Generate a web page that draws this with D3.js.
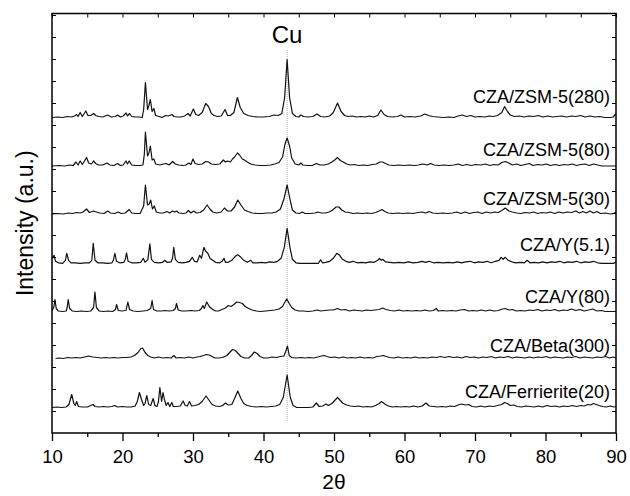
<!DOCTYPE html>
<html><head><meta charset="utf-8">
<script src="https://cdn.jsdelivr.net/npm/d3@7"></script>
<style>
html,body{margin:0;padding:0;background:#fff;}
svg{display:block;}
text{font-family:"Liberation Sans",Arial,Helvetica,sans-serif;fill:#000;}
</style></head><body>
<svg id="chart" width="630" height="496"></svg>
<script>
// ---------- DATA (2θ in degrees, intensity above each pattern's baseline, a.u.) ----------
const seriesNames = ["CZA/ZSM-5(280)","CZA/ZSM-5(80)","CZA/ZSM-5(30)","CZA/Y(5.1)","CZA/Y(80)","CZA/Beta(300)","CZA/Ferrierite(20)"];
const seriesOffsets = [315.5, 267, 219, 169.7, 121.5, 74.5, 25.5];
const cuPosition = 43.35;
const cuLabel = "Cu";
const xTickValues = [10,20,30,40,50,60,70,80,90];
const xMinorTickValues = [15,25,35,45,55,65,75,85];
const xLabel = "2θ";
const yLabel = "Intensity (a.u.)";

const zsm280 = [[10,0],[10.8,0.5],[11.5,0],[12.2,1],[12.8,0.5],[13.2,1.5],[13.5,3],[13.7,1],[14.0,5],[14.3,1],[14.8,6.5],[15.1,2],[15.5,2],[15.9,4],[16.2,2],[16.6,1],[17.2,0.5],[17.9,2.5],[18.4,0.5],[19.0,1],[19.3,2.5],[19.7,0.5],[20.1,1.5],[20.5,4.5],[20.7,1.5],[21.0,4],[21.3,1],[21.8,0.5],[22.4,0.5],[22.8,0],[23.0,8],[23.25,35],[23.55,8],[23.75,12],[23.95,18],[24.2,6],[24.45,9],[24.7,2],[25.2,1],[25.6,0],[26.1,2],[26.5,1.5],[27.0,3],[27.3,1],[27.8,0.5],[28.3,0.5],[28.8,1.5],[29.3,4],[29.6,1.5],[30.05,8.5],[30.4,3],[30.8,2],[31.3,5],[31.8,14],[32.2,11],[32.6,4],[33.0,2],[33.5,1],[34.0,1.5],[34.55,8],[34.9,2],[35.3,2],[35.8,5],[36.3,20],[36.7,10],[37.2,4],[37.8,2],[38.5,1],[39.2,0.5],[40.0,0.5],[40.8,1],[41.5,2.5],[42.1,2],[42.6,4],[43.0,20],[43.35,58],[43.7,20],[44.1,4],[44.6,1],[45.0,0.5],[45.3,2.5],[45.7,1],[46.3,0.5],[47.0,1],[47.6,3.5],[48.1,1],[48.7,0.5],[49.4,1.5],[49.9,5],[50.5,14.5],[51.0,6],[51.5,2],[52.0,1],[52.6,1.5],[53.2,0.5],[53.8,1],[54.4,0.5],[55.0,1.5],[55.6,0.5],[56.2,2],[56.65,7.5],[57.1,3],[57.6,1],[58.3,0.5],[59.0,1],[59.5,2.5],[60.0,0.5],[60.8,1],[61.5,0.5],[62.3,1.5],[62.9,3.5],[63.4,2],[64.0,1],[64.7,0.5],[65.5,0],[66.3,0.5],[67.0,0],[67.6,1.5],[68.2,2.5],[68.8,1],[69.4,2],[70.0,0.5],[70.7,1],[71.4,0.5],[72.0,1.5],[72.6,1],[73.2,2],[73.8,5],[74.2,11],[74.6,6],[75.0,2.5],[75.6,1],[76.3,1.5],[77.0,0.5],[77.6,1.5],[78.3,1],[79.0,2],[79.6,0.5],[80.3,1.5],[81.0,0.5],[81.6,1],[82.3,1.5],[83.0,0.5],[83.7,1.5],[84.3,1],[85.0,2],[85.6,0.5],[86.3,1.5],[87.0,0.5],[87.7,1],[88.4,0],[89.2,0],[89.6,0.5],[90,4]];

const zsm80 = [[10,0],[11,0.5],[11.8,0],[12.5,1],[13.0,0.5],[13.4,4],[13.7,1],[14.0,5],[14.3,1.5],[14.9,8.5],[15.2,3],[15.6,2],[15.9,5],[16.2,2.5],[16.6,1],[17.2,1],[17.8,3],[18.2,1],[18.8,0.5],[19.3,2.5],[19.7,0.5],[20.1,1],[20.5,5],[20.7,2],[20.95,5],[21.3,1],[21.9,0.5],[22.5,0.5],[22.9,1],[23.1,12],[23.25,34],[23.55,10],[23.75,13],[23.95,20],[24.2,6],[24.45,7],[24.7,2],[25.3,1],[25.8,2],[26.2,2.5],[26.6,1],[27.1,4.5],[27.5,2],[28.0,1],[28.6,0.5],[29.0,1],[29.4,3],[29.7,1.5],[30.0,7],[30.3,2.5],[30.8,1.5],[31.3,2],[31.8,4.5],[32.2,4],[32.6,2],[33.2,1.5],[33.8,2],[34.3,6],[34.6,4],[34.9,5],[35.3,4],[35.6,7],[35.9,9],[36.3,13],[36.6,11],[37.0,7],[37.3,6],[37.7,4],[38.2,2],[38.8,1],[39.5,0.5],[40.3,0.5],[41.0,1],[41.6,2],[42.2,3.5],[42.7,9],[43.05,22],[43.35,28],[43.7,20],[44.0,8],[44.5,2],[45.0,1],[45.3,3],[45.6,1],[46.2,0.5],[46.9,0.5],[47.5,2.5],[48.0,1],[48.6,1],[49.2,2],[49.7,4],[50.1,6],[50.5,8.5],[50.9,5.5],[51.3,4],[51.8,2],[52.3,1],[52.9,1.5],[53.5,0.5],[54.2,1],[54.8,0.5],[55.4,1.5],[56.0,2],[56.5,4],[56.9,4],[57.3,2.5],[57.8,1],[58.5,0.5],[59.2,1],[60.0,0.5],[60.7,1],[61.4,0.5],[62.0,1],[62.6,2],[63.2,1],[63.7,2.5],[64.2,1],[64.9,0.5],[65.6,1],[66.3,0.5],[67.0,1],[67.6,2],[68.2,0.5],[68.8,1.5],[69.5,0.5],[70.1,1.5],[70.8,1],[71.5,2],[72.1,0.5],[72.7,1.5],[73.3,1],[73.8,3.5],[74.3,4.5],[74.8,3],[75.3,1],[75.9,2],[76.5,0.5],[77.1,1.5],[77.7,2.5],[78.2,0.5],[78.9,1.5],[79.5,1],[80.1,2],[80.7,0.5],[81.4,1.5],[82.0,0.5],[82.6,1.5],[83.2,1],[83.8,2],[84.4,0.5],[85.0,1.5],[85.6,2],[86.2,0.5],[86.8,2],[87.4,1],[88.0,0],[89,0],[90,0]];

const zsm30 = [[10,0],[10.8,0.5],[11.6,0],[12.3,1],[12.9,0.5],[13.5,1.5],[14.0,1],[14.4,2],[14.9,5],[15.3,1.5],[15.9,3],[16.3,2],[16.8,1],[17.4,0.5],[17.9,3],[18.3,1],[18.9,0.5],[19.4,2],[19.8,0.5],[20.4,1],[20.95,4.5],[21.3,1],[21.9,0.5],[22.5,0.5],[23.0,8],[23.25,29],[23.55,9],[23.8,10],[24.0,14],[24.25,5],[24.5,8],[24.8,2],[25.3,1],[25.8,1],[26.3,2.5],[26.7,1],[27.1,3],[27.4,2],[27.7,3],[28.0,1],[28.6,0.5],[29.0,1],[29.35,3.5],[29.7,1],[30.1,3],[30.5,1],[31.0,1.5],[31.5,4],[32.0,9],[32.4,5],[32.8,2],[33.4,1],[34.0,2],[34.45,6],[34.9,3],[35.4,3],[35.9,7],[36.35,14],[36.8,9],[37.3,4],[37.8,2.5],[38.4,1],[39.1,0.5],[39.8,0.5],[40.5,1],[41.2,1],[41.8,2],[42.4,5],[42.9,15],[43.35,29],[43.75,15],[44.1,4],[44.6,1],[45.1,0.5],[45.5,2],[45.9,0.5],[46.6,0.5],[47.3,1],[47.7,2],[48.2,1],[48.8,1],[49.3,2],[49.8,4],[50.3,7],[50.7,7],[51.1,4],[51.6,2],[52.1,1.5],[52.7,0.5],[53.3,1],[54.0,0.5],[54.7,1],[55.3,0.5],[55.9,1.5],[56.4,3],[56.8,4.5],[57.2,2.5],[57.7,1],[58.4,0.5],[59.1,1],[59.8,0.5],[60.5,1],[61.2,0.5],[61.9,1.5],[62.5,2],[63.0,1],[63.5,2.5],[64.0,1],[64.7,0.5],[65.4,1],[66.1,0.5],[66.8,1],[67.4,2],[68.0,0.5],[68.6,2],[69.2,0.5],[69.8,1.5],[70.4,2],[71.0,0.5],[71.6,2],[72.2,1],[72.8,2],[73.3,1.5],[73.8,3.5],[74.3,6],[74.8,3],[75.3,2],[75.9,1],[76.5,0.5],[77.1,1.5],[77.7,1],[78.3,2],[78.9,0.5],[79.5,1.5],[80.1,1],[80.7,2],[81.3,0.5],[81.9,2],[82.5,1],[83.1,2],[83.7,1.5],[84.3,3],[84.8,1],[85.3,2.5],[85.8,1],[86.3,3],[86.8,1],[87.3,2.5],[87.8,0.5],[88.5,1],[89.2,0],[89.7,0.5],[90,2]];

const y51 = [[10,5],[10.3,8],[10.5,2],[10.9,0.5],[11.5,0],[11.9,3],[12.1,10],[12.35,3],[12.7,0.5],[13.3,0.5],[14.0,0],[14.7,0.5],[15.3,0.5],[15.65,3],[15.85,20],[16.1,3],[16.5,0.5],[17.2,0.5],[17.9,0],[18.5,0.5],[18.7,3],[18.92,10],[19.15,2],[19.6,0.5],[20.2,1],[20.4,4],[20.57,10.5],[20.8,2],[21.3,0.5],[22.0,0.5],[22.6,1],[22.95,5],[23.2,1],[23.6,4],[23.88,19.5],[24.1,4],[24.5,1],[25.1,0.5],[25.7,1],[26.0,3],[26.3,1],[26.9,1.5],[27.1,5],[27.27,16],[27.5,4],[27.9,1],[28.5,0.5],[29.0,1],[29.5,2],[29.9,6],[30.2,2],[30.6,1.5],[30.95,8],[31.2,5],[31.55,16],[31.8,12],[32.1,10],[32.4,5],[32.8,3],[33.2,1],[33.8,0.5],[34.15,2],[34.4,5],[34.6,1],[35.0,1],[35.5,3],[36.0,7],[36.35,8.5],[36.8,6],[37.2,3],[37.7,1],[38.2,3],[38.5,0.5],[39.1,0.5],[39.7,1],[40.3,0.5],[40.9,1.5],[41.5,1],[42.0,2],[42.5,5],[42.95,16],[43.35,35],[43.75,16],[44.1,4],[44.6,0.5],[45.1,0],[46.0,0],[47.0,0],[47.8,0],[48.1,3.5],[48.35,0.5],[48.8,1],[49.4,2],[49.9,5],[50.4,10],[50.8,8],[51.2,4],[51.7,2],[52.2,1],[52.7,2],[53.3,0.5],[53.9,1],[54.5,0.5],[55.1,1.5],[55.7,1],[56.2,3],[56.45,5],[56.7,3],[56.9,4],[57.3,1.5],[57.9,1],[58.5,0.5],[59.2,1],[59.9,0.5],[60.6,1.5],[61.2,0.5],[61.9,1],[62.5,2],[63.0,1],[63.5,2],[64.1,0.5],[64.8,1],[65.5,0.5],[66.2,1],[66.9,0.5],[67.5,1.5],[68.1,0.5],[68.7,1.5],[69.3,2],[69.9,0.5],[70.5,1.5],[71.1,1],[71.7,2],[72.3,0.5],[72.9,2],[73.4,3],[73.7,6],[74.0,4],[74.3,6],[74.7,3],[75.2,1.5],[75.8,0.5],[76.4,1],[77.0,0.5],[77.4,3],[77.8,0.5],[78.4,1],[79.0,0.5],[79.6,1.5],[80.2,0.5],[80.8,1.5],[81.4,1],[82.0,2],[82.6,0.5],[83.2,1.5],[83.8,1],[84.4,2],[85.0,0.5],[85.6,1.5],[86.2,1],[86.8,2],[87.4,0.5],[88.0,0],[89.0,0],[89.7,0],[90,1.5]];

const y80 = [[10,1],[10.25,4],[10.42,12],[10.6,3],[10.9,0.5],[11.5,0],[12.0,0.5],[12.15,4],[12.3,12],[12.5,3],[12.9,0.5],[13.5,0],[14.2,0.5],[14.9,0],[15.5,0.5],[15.9,4],[16.09,19.5],[16.3,4],[16.7,0.5],[17.3,0],[18.0,0.5],[18.6,0],[19.0,2],[19.16,7],[19.4,1],[19.9,0.5],[20.5,1],[20.75,9.5],[21.0,2],[21.5,0.5],[22.2,0],[22.9,0.5],[23.5,1],[24.0,3],[24.2,11],[24.4,2],[24.9,0.5],[25.5,0.5],[26.0,1],[26.6,0.5],[27.2,1],[27.5,3],[27.66,8],[27.9,1.5],[28.4,0.5],[29.0,0.5],[29.7,1],[30.3,0.5],[30.9,1],[31.2,3],[31.4,6],[31.6,3],[31.95,9.5],[32.3,5],[32.8,2],[33.2,0.5],[33.6,0.5],[34.1,2],[34.6,3.5],[35.0,6],[35.4,5],[35.8,7],[36.2,9.5],[36.6,9],[37.0,8],[37.4,5],[37.9,3],[38.4,1.5],[39.0,0.5],[39.6,0],[40.3,0.5],[41.0,1],[41.6,1.5],[42.2,2.5],[42.7,5],[43.0,9],[43.3,12.5],[43.65,8],[44.0,4],[44.5,1.5],[45.0,0.5],[45.7,0.5],[46.3,0],[47.0,0.5],[47.6,1.5],[48.1,0.5],[48.7,1],[49.3,1.5],[49.9,1.5],[50.5,3],[51.0,1.5],[51.6,2],[52.2,0.5],[52.8,1.5],[53.4,1],[54.0,0.5],[54.6,1.5],[55.2,1],[55.8,1.5],[56.4,2],[56.9,3.5],[57.4,2],[58.0,1],[58.6,0.5],[59.2,1.5],[59.8,0.5],[60.4,1],[61.0,0.5],[61.7,1],[62.3,0.5],[62.9,1.5],[63.5,0.5],[64.1,1],[64.5,3],[64.8,0.5],[65.4,1],[66.0,0.5],[66.7,1],[67.3,0.5],[67.9,1.5],[68.5,2],[69.1,0.5],[69.7,1],[70.3,0.5],[70.9,1.5],[71.5,0.5],[72.1,1.5],[72.7,0.5],[73.3,1],[73.9,2.5],[74.3,3],[74.8,1.5],[75.3,2],[75.9,0.5],[76.5,1],[77.1,0.5],[77.7,1.5],[78.3,1],[78.9,2],[79.5,0.5],[80.1,1.5],[80.7,1],[81.3,2],[81.9,0.5],[82.5,1.5],[83.1,1],[83.7,2.5],[84.3,1],[84.9,2],[85.5,0.5],[86.1,1.5],[86.7,2.5],[87.3,0.5],[87.9,1],[88.5,0],[89.2,0],[89.8,0],[90,0]];

const beta300 = [[10.5,0],[11.0,0.5],[11.6,0],[12.2,1],[12.8,0.5],[13.4,1],[14.0,0.5],[14.6,1.5],[15.2,2.5],[15.8,1.5],[16.4,1],[17.0,0.5],[17.6,1],[18.2,0.5],[18.8,1],[19.4,0.5],[20.0,1],[20.6,1],[21.2,1.5],[21.7,3],[22.2,6],[22.6,10],[22.85,10.5],[23.2,6],[23.6,3],[24.0,1.5],[24.5,0.5],[25.1,1.5],[25.7,0.5],[26.3,1],[26.9,0.5],[27.3,3],[27.6,0.5],[28.2,1],[28.8,0.5],[29.4,1.5],[30.0,0.5],[30.6,1.5],[31.0,2],[31.5,3],[31.9,4],[32.3,3.5],[32.7,2],[33.1,0.5],[33.6,0.5],[34.2,1],[34.8,3],[35.2,6],[35.6,9],[36.0,8],[36.4,5],[36.8,2],[37.3,0.5],[37.9,0.5],[38.3,3],[38.7,6.5],[39.1,5],[39.5,2],[40.0,0.5],[40.6,0.5],[41.2,1.5],[41.8,1],[42.4,2],[42.9,2.5],[43.2,8],[43.4,12.5],[43.65,3],[44.0,1],[44.6,0.5],[45.3,1],[45.9,0.5],[46.5,1],[47.1,0.5],[47.7,1.5],[48.2,2.5],[48.6,3],[49.0,2],[49.5,1],[50.1,1.5],[50.7,0.5],[51.3,1.5],[51.9,0.5],[52.5,1],[53.1,0.5],[53.7,1.5],[54.3,0.5],[54.9,1],[55.5,0.5],[56.1,2],[56.6,2.5],[57.0,3],[57.4,2],[57.9,1],[58.5,0.5],[59.1,1.5],[59.7,0.5],[60.3,1],[60.9,0.5],[61.5,1.5],[62.1,0.5],[62.7,1],[63.3,0.5],[63.9,1.5],[64.5,1],[65.1,2],[65.7,1],[66.3,2],[66.9,1],[67.5,1.5],[68.1,0.5],[68.7,2],[69.3,1],[69.9,1.5],[70.5,0.5],[71.1,1.5],[71.7,1],[72.3,2],[72.9,0.5],[73.5,1.5],[74.1,1],[74.7,2],[75.3,0.5],[75.9,1.5],[76.5,1],[77.1,0.5],[77.7,1.5],[78.3,0.5],[78.9,1.5],[79.5,1],[80.1,2],[80.7,0.5],[81.3,1.5],[81.9,1],[82.5,0.5],[83.1,1.5],[83.7,1],[84.3,2],[84.9,0.5],[85.5,1.5],[86.1,1],[86.7,0.5],[87.3,1.5],[87.9,1],[88.5,2],[89.1,0.5],[89.6,1.5],[90,0.5]];

const ferrierite20 = [[10,0],[10.7,0.5],[11.4,0],[12.0,0.5],[12.4,3],[12.8,13],[13.1,4],[13.3,2],[13.5,6],[13.75,1],[14.3,0.5],[15.0,0.5],[15.5,2],[15.8,3],[16.1,1],[16.7,0.5],[17.3,1],[17.9,0.5],[18.5,1],[18.9,2],[19.3,0.5],[20.0,1],[20.6,0.5],[21.2,0.5],[21.8,1.5],[22.1,6],[22.4,15],[22.7,8],[23.0,2],[23.2,4],[23.45,12],[23.7,3],[24.0,2],[24.35,9],[24.6,2],[24.9,1],[25.1,6],[25.3,20],[25.55,6],[25.75,15],[25.95,8],[26.2,2],[26.45,5],[26.7,1],[27.0,5],[27.2,1],[27.7,1],[28.2,1.5],[28.6,6.5],[28.9,2],[29.2,1.5],[29.5,6],[29.8,1.5],[30.3,2],[30.8,3],[31.3,6],[31.85,11.5],[32.3,7],[32.7,3],[33.2,1.5],[33.8,1],[34.2,2],[34.6,4.5],[35.0,2.5],[35.5,3],[35.9,9],[36.35,16.5],[36.8,9],[37.2,4],[37.7,2],[38.3,1],[39.0,0.5],[39.7,1],[40.4,0.5],[41.1,1],[41.7,1.5],[42.3,3],[42.8,10],[43.35,32.5],[43.8,10],[44.2,2],[44.7,0],[45.5,0],[46.4,0],[47.0,0.5],[47.5,4.5],[47.9,1],[48.4,1.5],[48.85,3.5],[49.2,2],[49.7,4],[50.1,7],[50.5,10],[50.9,7],[51.3,4],[51.8,2.5],[52.3,1.5],[52.9,1],[53.5,1.5],[54.1,0.5],[54.7,1],[55.3,0.5],[55.9,2],[56.4,4],[56.75,6],[57.2,3.5],[57.7,1.5],[58.3,0.5],[58.9,1],[59.5,0.5],[60.1,1],[60.7,0.5],[61.3,1.5],[61.9,0.5],[62.5,1.5],[63.05,4.5],[63.5,1.5],[64.1,1],[64.7,0.5],[65.3,1],[65.9,0.5],[66.5,1.5],[67.1,1],[67.6,2.5],[68.1,3.5],[68.6,2.5],[69.1,3],[69.6,1],[70.2,0.5],[70.8,1.5],[71.4,0.5],[72.0,1.5],[72.6,1],[73.2,2],[73.8,3],[74.2,5],[74.6,4],[75.0,2],[75.5,2.5],[76.0,1],[76.6,0.5],[77.2,1.5],[77.8,1],[78.4,0.5],[79.0,1.5],[79.6,0.5],[80.2,2],[80.8,1],[81.4,1.5],[82.0,0.5],[82.6,1.5],[83.2,1],[83.8,2],[84.4,1],[85.0,2],[85.5,1.5],[86.0,3],[86.4,2.5],[86.8,4],[87.2,3],[87.6,2],[88.1,1],[88.6,0.5],[89.2,1.5],[89.7,0.5],[90,1]];

const seriesData = [zsm280, zsm80, zsm30, y51, y80, beta300, ferrierite20];

// ---------- LAYOUT ----------
const W = 630, H = 496;
const m = {left: 52, right: 14, top: 13.5, bottom: 63};
const pw = W - m.left - m.right, ph = H - m.top - m.bottom;
const labelBaselines = [103, 156, 205, 251, 303, 352, 398]; // px
const cuLine = {y1: 50, y2: 421};

const svg = d3.select("#chart");
const xScale = d3.scaleLinear().domain([10, 90]).range([m.left, m.left + pw]);
const yScale = d3.scaleLinear().domain([0, ph]).range([m.top + ph, m.top]);

// Cu reference line
svg.append("line")
  .attr("x1", xScale(cuPosition)).attr("x2", xScale(cuPosition))
  .attr("y1", cuLine.y1).attr("y2", cuLine.y2)
  .attr("stroke", "#9a9a9a").attr("stroke-width", 0.8)
  .attr("stroke-dasharray", "1,1");

svg.append("text").attr("x", xScale(cuPosition)).attr("y", 43)
  .attr("text-anchor", "middle").style("font-size", "24px").text(cuLabel);

// patterns
seriesData.forEach((s, i) => {
  const off = seriesOffsets[i];
  const lineGen = d3.line().x(d => xScale(d[0])).y(d => yScale(off + d[1]));
  svg.append("path")
    .attr("d", lineGen(s))
    .attr("fill", "none").attr("stroke", "#111").attr("stroke-width", 1.2)
    .attr("stroke-linejoin", "round");
  svg.append("text").attr("x", 610).attr("y", labelBaselines[i])
    .attr("text-anchor", "end").style("font-size", "18px").text(seriesNames[i]);
});

// frame
svg.append("rect").attr("x", m.left).attr("y", m.top).attr("width", pw).attr("height", ph)
  .attr("fill", "none").attr("stroke", "#000").attr("stroke-width", 1.5);

// bottom axis
const axB = svg.append("g").attr("transform", `translate(0,${m.top + ph})`);
axB.call(d3.axisBottom(xScale).tickValues(xTickValues).tickSize(8).tickPadding(9).tickFormat(d3.format("d")));
axB.append("g").call(d3.axisBottom(xScale).tickValues(xMinorTickValues).tickSize(4).tickFormat(""));
axB.selectAll(".domain").remove();
axB.selectAll(".tick line").attr("stroke", "#000").attr("stroke-width", 1.3);
axB.selectAll(".tick text").style("font-size", "18.5px").style("font-family", "Liberation Sans, Arial, sans-serif").attr("fill", "#000");

// top axis (inward ticks)
const axT = svg.append("g").attr("transform", `translate(0,${m.top})`);
axT.call(d3.axisBottom(xScale).tickValues(xTickValues.concat(xMinorTickValues)).tickSize(4).tickFormat(""));
axT.selectAll(".domain").remove();
axT.selectAll(".tick line").attr("stroke", "#000").attr("stroke-width", 1);

// left & right axes (inward ticks, no labels)
const yTicks = d3.range(22, ph, 22);
const axL = svg.append("g").attr("transform", `translate(${m.left},0)`);
axL.call(d3.axisRight(yScale).tickValues(yTicks).tickSize(4).tickFormat(""));
axL.selectAll(".domain").remove();
axL.selectAll(".tick line").attr("stroke", "#000").attr("stroke-width", 1);
const axR = svg.append("g").attr("transform", `translate(${m.left + pw},0)`);
axR.call(d3.axisLeft(yScale).tickValues(yTicks).tickSize(4).tickFormat(""));
axR.selectAll(".domain").remove();
axR.selectAll(".tick line").attr("stroke", "#000").attr("stroke-width", 1);

// axis titles
svg.append("text").attr("x", m.left + pw / 2).attr("y", 489)
  .attr("text-anchor", "middle").style("font-size", "21px").text(xLabel);
svg.append("text").attr("transform", `translate(33,${m.top + ph / 2}) rotate(-90)`)
  .attr("text-anchor", "middle").style("font-size", "23px").text(yLabel);
</script>
</body></html>
